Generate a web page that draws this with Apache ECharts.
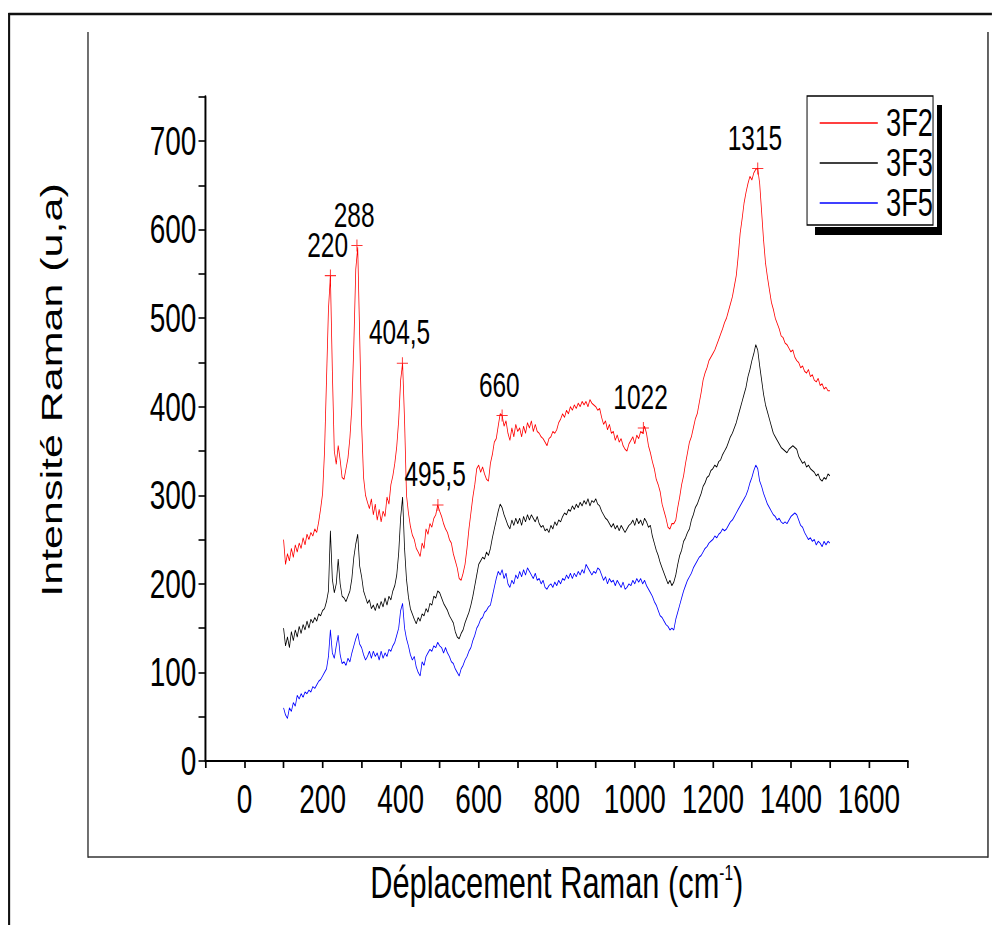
<!DOCTYPE html>
<html>
<head>
<meta charset="utf-8">
<title>Spectres Raman 3F2 / 3F3 / 3F5</title>
<script src="https://cdn.jsdelivr.net/npm/echarts@6/dist/echarts.min.js"></script>
<style>
  html, body { margin: 0; padding: 0; overflow: hidden; background: #fff; width: 992px; height: 925px; }
  /* the figure is laid out on a wider canvas and compressed horizontally,
     giving the narrow lettering of the original plot */
  #chart { width: 1417px; height: 925px; transform: scaleX(0.7); transform-origin: 0 0; }
</style>
</head>
<body>
<div id="chart"></div>
<script>
// Spectra sampled every 5 cm-1 from 100 to 1500 cm-1
const SHIFT_START = 100;
const SHIFT_STEP = 5;

const seriesNames = ['3F2', '3F3', '3F5'];
const seriesColors = ['#ff0000', '#000000', '#0000ff'];

// 3F2 intensity (u,a)
const int3F2 = [
  250,222,234,226,240,230,244,236,246,240,252,244,256,250,258,254,262,258,270,285,
  302,350,430,510,548,440,350,335,356,340,320,318,330,342,365,400,470,555,580,480,
  380,320,300,292,285,296,278,290,272,284,270,282,276,298,290,312,322,336,355,385,
  430,449,385,300,280,265,255,250,240,236,231,246,240,262,256,268,264,274,278,289,
  282,276,268,262,258,250,246,234,226,218,206,204,212,222,240,262,280,298,312,330,
  334,326,332,324,318,316,336,346,360,364,378,392,390,378,384,370,362,376,366,380,
  372,376,366,378,370,382,376,384,372,380,372,370,366,364,360,356,364,366,372,370,
  374,382,386,392,388,396,392,400,396,402,398,404,400,406,402,406,400,408,404,402,
  400,396,398,388,380,384,374,380,370,372,362,368,360,364,356,352,350,358,362,366,
  358,368,364,372,370,378,370,356,348,338,330,318,312,304,290,282,274,264,262,268,
  268,272,286,298,312,322,336,348,360,366,376,386,392,404,416,430,438,444,452,456,
  460,464,470,476,482,488,495,500,508,516,524,536,548,570,596,612,630,642,652,660,
  656,664,668,669,652,620,588,562,546,532,518,510,500,494,488,480,478,472,470,466,
  462,464,456,452,450,444,446,440,438,442,434,436,430,428,432,424,426,420,422,418,
  418
];

// 3F3 intensity (u,a)
const int3F3 = [
  150,130,140,128,146,136,148,140,152,144,154,148,158,150,160,156,162,158,166,164,
  170,172,180,192,260,205,190,200,228,200,186,184,180,186,192,206,230,245,256,220,
  208,192,185,178,182,172,176,170,178,172,180,174,184,176,186,182,192,198,210,235,
  275,298,240,205,185,172,166,160,155,162,158,166,164,172,168,178,176,186,184,192,
  190,184,178,174,170,164,160,156,146,140,138,144,148,156,162,168,176,186,198,210,
  222,226,230,228,236,232,240,252,262,272,282,290,286,278,272,266,262,272,266,274,
  268,274,266,276,270,278,272,278,274,270,276,268,264,266,260,262,258,266,262,270,
  266,272,270,276,280,278,284,282,288,284,290,286,292,288,294,290,296,288,294,292,
  296,290,288,282,278,274,272,268,264,268,262,266,260,266,262,258,262,266,268,272,
  266,274,268,272,266,274,270,264,266,254,246,238,232,224,218,212,206,200,204,198,
  202,210,222,232,238,248,252,258,262,272,278,286,290,296,302,310,314,320,322,328,
  330,334,332,338,340,346,350,354,360,366,370,376,382,390,398,406,414,422,434,442,
  452,460,470,464,446,430,414,402,394,386,378,370,366,362,358,354,352,350,348,352,
  354,356,354,352,344,340,336,338,332,334,330,328,326,322,324,318,316,320,318,324,
  322
];

// 3F5 intensity (u,a)
const int3F5 = [
  60,52,48,60,56,66,62,74,70,76,72,78,76,80,78,84,82,86,90,92,
  96,100,104,118,148,122,116,130,142,120,110,112,108,116,112,122,130,138,144,132,
  128,120,114,118,124,116,124,118,122,114,124,116,122,118,126,124,130,134,142,150,
  170,178,150,138,130,120,114,118,106,100,96,112,108,118,122,126,124,130,128,134,
  130,128,122,128,122,118,112,110,104,100,96,104,108,114,118,124,128,136,142,150,
  154,160,162,168,170,174,176,186,196,206,214,210,216,206,212,200,196,204,200,210,
  206,214,208,216,210,218,214,210,206,212,204,206,200,204,196,194,198,200,196,202,
  198,204,200,206,204,210,206,212,206,212,208,214,210,216,212,222,218,214,210,214,
  212,218,216,210,204,208,200,206,202,204,198,204,200,196,202,194,196,200,198,204,
  200,206,202,206,200,204,198,194,190,186,180,176,170,164,162,158,154,152,148,150,
  148,160,168,176,184,192,198,204,208,212,218,222,226,230,232,236,240,242,246,248,
  250,254,252,256,258,262,260,262,266,270,272,276,280,284,288,292,296,300,306,314,
  320,328,334,330,316,310,302,296,290,286,282,278,276,272,274,270,268,270,268,272,
  276,278,280,278,272,266,264,258,254,250,252,248,250,244,248,246,242,248,244,248,
  246
];

// Annotated bands of 3F2
const peakShift = [220, 288, 404.5, 495.5, 660, 1022, 1315];
const peakIntensity = [548, 582, 449, 289, 390, 376, 669];
const peakLabels = ['220', '288', '404,5', '495,5', '660', '1022', '1315'];

// Tick labels
const xTickLabels = [0, 200, 400, 600, 800, 1000, 1200, 1400, 1600];
const yTickLabels = [0, 100, 200, 300, 400, 500, 600, 700];

const FONT = '"Liberation Sans", Arial, sans-serif';

function toPairs(values) {
  return values.map((v, i) => [SHIFT_START + i * SHIFT_STEP, v]);
}

const spectra = [int3F2, int3F3, int3F5];

const lineSeries = spectra.map((vals, k) => ({
  name: seriesNames[k],
  type: 'line',
  data: toPairs(vals),
  showSymbol: false,
  symbol: 'none',
  lineStyle: { color: seriesColors[k], width: 1.1 },
  itemStyle: { color: seriesColors[k] },
  z: 3 - k
}));

const peakSeries = {
  name: 'bandes',
  type: 'scatter',
  data: peakShift.map((x, i) => [x, peakIntensity[i]]),
  symbol: 'path://M0,6H12M6,0V12',
  symbolSize: [16, 12],
  itemStyle: { color: 'transparent', borderColor: '#ff0000', borderWidth: 1.2 },
  label: {
    show: true,
    position: 'top',
    distance: 7,
    offset: [-4, 0],
    formatter: p => peakLabels[p.dataIndex],
    fontFamily: FONT,
    fontSize: 35,
    color: '#000',
    opacity: 1,
    textBorderWidth: 0
  },
  z: 5
};

// legend drawn as a framed box with a dark drop edge
const legendRows = [123, 163, 203];
const legendGraphics = [
  { type: 'rect', shape: { x: 1164.3, y: 227, width: 181.4, height: 8 }, style: { fill: '#000' }, z: 10 },
  { type: 'rect', shape: { x: 1338.6, y: 105, width: 7.1, height: 124 }, style: { fill: '#000' }, z: 10 },
  { type: 'rect', shape: { x: 1152.9, y: 96, width: 180, height: 129 }, style: { fill: '#fff', stroke: '#000', lineWidth: 1.4 }, z: 11 }
];
seriesNames.forEach((name, k) => {
  legendGraphics.push({
    type: 'line', shape: { x1: 1171, y1: legendRows[k], x2: 1254, y2: legendRows[k] },
    style: { stroke: seriesColors[k], lineWidth: 1.5 }, z: 12
  });
  legendGraphics.push({
    type: 'text', x: 1265.7, y: legendRows[k],
    style: { text: name, font: '39px ' + FONT, fill: '#000', align: 'left', verticalAlign: 'middle' }, z: 12
  });
});

const frameGraphics = [
  { type: 'line', shape: { x1: 12, y1: 14, x2: 1417, y2: 14 }, style: { stroke: '#111', lineWidth: 2.5 } },
  { type: 'line', shape: { x1: 13, y1: 13, x2: 13, y2: 925 }, style: { stroke: '#111', lineWidth: 3 } },
  { type: 'line', shape: { x1: 125.7, y1: 32, x2: 125.7, y2: 857.7 }, style: { stroke: '#333', lineWidth: 2 } },
  { type: 'line', shape: { x1: 1411.4, y1: 32, x2: 1411.4, y2: 857.7 }, style: { stroke: '#222', lineWidth: 2 } },
  { type: 'line', shape: { x1: 125.7, y1: 857, x2: 1411.4, y2: 857 }, style: { stroke: '#333', lineWidth: 1.5 } },
  {
    type: 'text', x: 74, y: 390, rotation: Math.PI / 2,
    style: { text: 'Intensité Raman (u,a)', font: '43px ' + FONT, fill: '#000', align: 'center', verticalAlign: 'middle' }
  }
];

const chart = echarts.init(document.getElementById('chart'), null, { renderer: 'svg' });

chart.setOption({
  animation: false,
  backgroundColor: '#fff',
  grid: { left: 293.6, right: 119.9, top: 96.7, bottom: 164 },
  xAxis: {
    type: 'value',
    min: -100,
    max: 1700,
    interval: 100,
    name: 'Déplacement Raman (cm{sup|-1})',
    nameLocation: 'middle',
    nameGap: 100,
    nameTextStyle: {
      fontFamily: FONT, fontSize: 44, color: '#000',
      rich: { sup: { fontFamily: FONT, fontSize: 22, color: '#000', verticalAlign: 'top' } }
    },
    axisLine: { onZero: false, lineStyle: { color: '#000', width: 2 } },
    axisTick: { inside: false, length: 7, lineStyle: { color: '#000', width: 2.4 } },
    axisLabel: {
      margin: 18,
      fontFamily: FONT, fontSize: 40, color: '#000',
      formatter: v => (xTickLabels.indexOf(v) >= 0 ? String(v) : '')
    },
    splitLine: { show: false }
  },
  yAxis: {
    type: 'value',
    min: 0,
    max: 750,
    interval: 50,
    axisLine: { show: true, onZero: false, lineStyle: { color: '#000', width: 2.8 } },
    axisTick: { show: true, inside: false, length: 10, lineStyle: { color: '#000', width: 1.6 } },
    axisLabel: {
      margin: 13,
      fontFamily: FONT, fontSize: 40, color: '#000',
      formatter: v => (yTickLabels.indexOf(v) >= 0 ? String(v) : '')
    },
    splitLine: { show: false }
  },
  series: lineSeries.concat([peakSeries]),
  graphic: frameGraphics.concat(legendGraphics)
});
</script>
</body>
</html>
